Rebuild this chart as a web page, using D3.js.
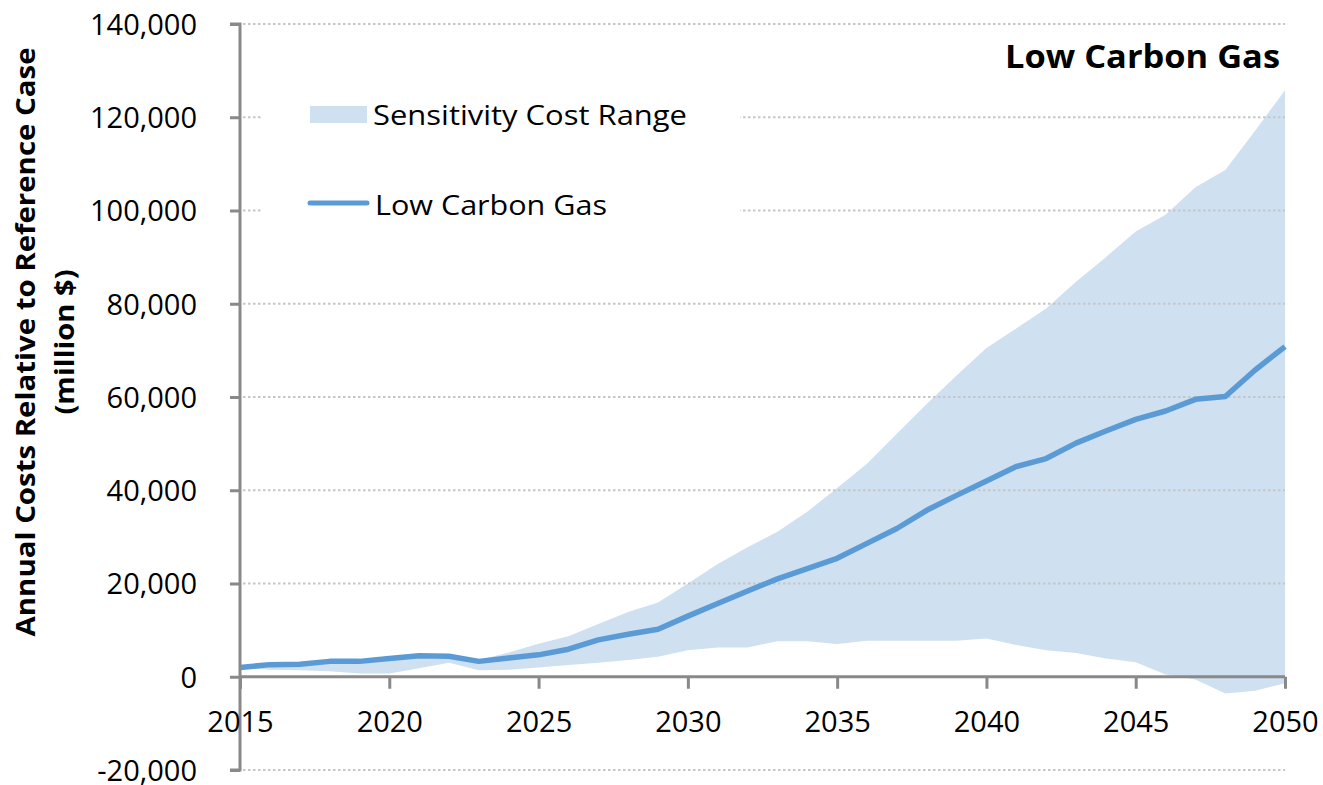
<!DOCTYPE html>
<html><head><meta charset="utf-8">
<script src="https://cdn.jsdelivr.net/npm/d3@7"></script>
<style>body{margin:0;background:#fff}svg{display:block}</style>
</head><body><svg id="c" width="1323" height="785"></svg>
<script>
const years = d3.range(2015, 2051);
const lowCarbonGas = [2000,2600,2700,3300,3300,3900,4500,4400,3300,4000,4700,5900,7900,9100,10200,13000,15700,18400,21000,23200,25400,28600,31800,35700,38900,42000,45100,46800,50100,52700,55200,57000,59500,60100,65800,70800];
const rangeUpper = [2000,2700,2800,3300,3300,3900,4500,4400,3600,5200,7100,8700,11300,13900,15900,20000,24200,27800,31100,35400,40500,45700,52100,58500,64600,70500,74700,79000,84700,90000,95500,99100,105000,108700,117100,125800];
const rangeLower = [2000,1500,1400,1200,700,700,1800,3000,1400,1500,2000,2500,3000,3600,4300,5700,6300,6300,7600,7600,7000,7700,7700,7700,7700,8200,6800,5700,5100,3900,3100,500,-600,-3600,-3000,-1400];
const yTicks = [-20000,0,20000,40000,60000,80000,100000,120000,140000];
const xTicks = [2015,2020,2025,2030,2035,2040,2045,2050];
const titleText = "Low Carbon Gas";
const yTitle = ["Annual Costs Relative to Reference Case", "(million $)"];
const legendLabels = ["Sensitivity Cost Range", "Low Carbon Gas"];

const svg = d3.select("#c");
const x = d3.scaleLinear().domain([2015, 2050]).range([240, 1285]);
const y = d3.scaleLinear().domain([-20000, 140000]).range([770, 24]);
const fmt = v => d3.format(",")(Math.abs(v)).replace(/^/, v < 0 ? "-" : "");
const bandColor = "#cfe0f1", lineColor = "#5b9bd5", axisColor = "#898989";
const numFont = "'Open Sans', sans-serif";

// band
svg.append("path").datum(years)
  .attr("d", d3.area().x((d,i)=>x(d)).y0((d,i)=>y(rangeLower[i])).y1((d,i)=>y(rangeUpper[i])))
  .attr("fill", bandColor);

// grid
svg.append("g").selectAll("line").data(yTicks.filter(d=>d!==0)).join("line")
  .attr("x1", 243).attr("x2", 1285).attr("y1", d=>y(d)).attr("y2", d=>y(d))
  .attr("stroke", "#c6c6c6").attr("stroke-width", 2).attr("stroke-dasharray", "2.5,2.5");

// legend background
svg.append("rect").attr("x", 262).attr("y", 88).attr("width", 478).attr("height", 145).attr("fill", "#fff");

// line
svg.append("path").datum(years)
  .attr("d", d3.line().x(d=>x(d)).y((d,i)=>y(lowCarbonGas[i])))
  .attr("fill", "none").attr("stroke", lineColor).attr("stroke-width", 5.5).attr("stroke-linejoin", "round");

// y axis
const ya = svg.append("g").attr("transform", "translate(240,0)")
  .call(d3.axisLeft(y).tickValues(yTicks).tickSize(10).tickPadding(33).tickFormat(fmt));
ya.select(".domain").attr("stroke", axisColor).attr("stroke-width", 3).attr("d", `M-10,${y(140000)}H0V${y(-20000)}H-10`);
ya.selectAll(".tick line").attr("stroke", axisColor).attr("stroke-width", 3);
ya.selectAll(".tick text").attr("font-family", numFont).attr("font-size", 29).attr("fill", "#000").attr("dy", "0.36em");

// x axis
const xa = svg.append("g").attr("transform", `translate(0,${y(0)})`)
  .call(d3.axisBottom(x).tickValues(xTicks).tickSize(12).tickFormat(d3.format("d")));
xa.select(".domain").attr("stroke", axisColor).attr("stroke-width", 3).attr("d", `M${x(2015)},0H${x(2050)}`);
xa.selectAll(".tick line").attr("stroke", axisColor).attr("stroke-width", 3);
xa.selectAll(".tick text").attr("font-family", numFont).attr("font-size", 29).attr("fill", "#000")
  .attr("y", 55).attr("dy", "0");

// title
svg.append("text").attr("x", 1280).attr("y", 68).attr("text-anchor", "end")
  .attr("font-family", numFont).attr("font-weight", "bold").attr("font-size", 32)
  .attr("textLength", 275).attr("lengthAdjust", "spacingAndGlyphs").text(titleText);

// y title
const yt = svg.append("g").attr("transform", "translate(0,342) rotate(-90)");
yt.append("text").attr("x", 0).attr("y", 35).attr("text-anchor", "middle")
  .attr("font-family", numFont).attr("font-weight", "bold").attr("font-size", 27)
  .attr("textLength", 589).attr("lengthAdjust", "spacingAndGlyphs").text(yTitle[0]);
yt.append("text").attr("x", 0).attr("y", 74).attr("text-anchor", "middle")
  .attr("font-family", numFont).attr("font-weight", "bold").attr("font-size", 27)
  .attr("textLength", 145).attr("lengthAdjust", "spacingAndGlyphs").text(yTitle[1]);

// legend
svg.append("rect").attr("x", 310).attr("y", 106).attr("width", 57).attr("height", 17).attr("fill", bandColor);
svg.append("line").attr("x1", 310).attr("x2", 367).attr("y1", 203).attr("y2", 203)
  .attr("stroke", lineColor).attr("stroke-width", 5).attr("stroke-linecap", "round");
svg.append("text").attr("x", 373).attr("y", 125).attr("font-family", numFont).attr("font-size", 28)
  .attr("textLength", 314).attr("lengthAdjust", "spacingAndGlyphs").text(legendLabels[0]);
svg.append("text").attr("x", 375).attr("y", 215).attr("font-family", numFont).attr("font-size", 28)
  .attr("textLength", 232).attr("lengthAdjust", "spacingAndGlyphs").text(legendLabels[1]);
</script></body></html>
